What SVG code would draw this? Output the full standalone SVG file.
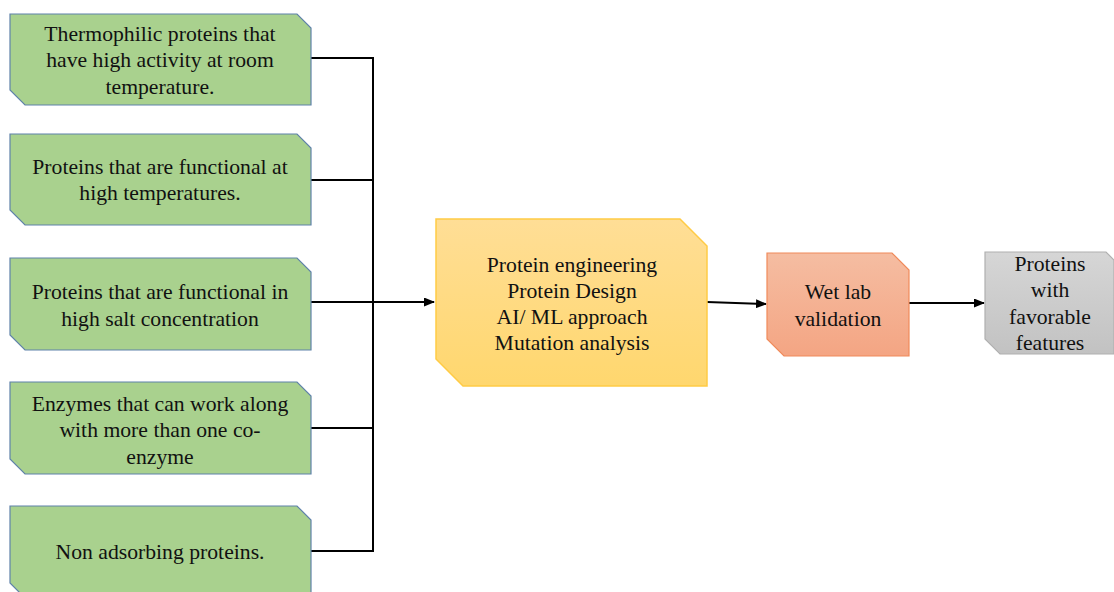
<svg xmlns="http://www.w3.org/2000/svg" width="1114" height="592" viewBox="0 0 1114 592">
<defs>
<linearGradient id="gy" x1="0" y1="0" x2="0" y2="1"><stop offset="0" stop-color="#FFDE96"/><stop offset="1" stop-color="#FFD76E"/></linearGradient>
<linearGradient id="go" x1="0" y1="0" x2="0" y2="1"><stop offset="0" stop-color="#F5BDA2"/><stop offset="1" stop-color="#F4A583"/></linearGradient>
<linearGradient id="gg" x1="0" y1="0" x2="0" y2="1"><stop offset="0" stop-color="#D6D6D6"/><stop offset="1" stop-color="#C2C2C2"/></linearGradient>
<marker id="ah" markerWidth="11" markerHeight="9" refX="10" refY="4.5" orient="auto" markerUnits="userSpaceOnUse"><path d="M0,0 L11,4.5 L0,9 Z" fill="#000"/></marker>
</defs>
<style>
.g{fill:#A9D18E;stroke:#5F82AA;stroke-width:1.2}
.t{font-family:"Liberation Serif","Times New Roman",serif;font-size:21.7px;fill:#111;text-anchor:middle}
.c{fill:none;stroke:#000;stroke-width:2}
</style>
<rect width="1114" height="592" fill="#fff"/>
<g id="connectors">
<path class="c" d="M311,58 H373 V551 H311"/>
<path class="c" d="M311,180 H373"/>
<path class="c" d="M311,428 H373"/>
<path class="c" d="M311,302 H434" marker-end="url(#ah)"/>
<path class="c" d="M707,302 L766,304" marker-end="url(#ah)"/>
<path class="c" d="M909,303 H984" marker-end="url(#ah)"/>
</g>
<g id="n1"><path class="g" d="M10,14 H297 L311,28 V105 H25 L10,90 Z"/>
<text class="t" x="160" y="41">Thermophilic  proteins that</text><text class="t" x="160" y="67">have high activity at room</text><text class="t" x="160" y="94">temperature.</text></g>
<g id="n2"><path class="g" d="M10,134 H297 L311,148 V225 H25 L10,210 Z"/>
<text class="t" x="160" y="174">Proteins that are functional at</text><text class="t" x="160" y="200">high  temperatures.</text></g>
<g id="n3"><path class="g" d="M10,258 H297 L311,272 V350 H25 L10,335 Z"/>
<text class="t" x="160" y="299">Proteins that are functional in</text><text class="t" x="160" y="326">high  salt concentration</text></g>
<g id="n4"><path class="g" d="M10,382 H297 L311,396 V474 H25 L10,459 Z"/>
<text class="t" x="160" y="411">Enzymes that can work along</text><text class="t" x="160" y="437">with more than one co-</text><text class="t" x="160" y="464">enzyme</text></g>
<g id="n5"><path class="g" d="M10,506 H297 L311,520 V598 H25 L10,583 Z"/>
<text class="t" x="160" y="559">Non adsorbing proteins.</text></g>
<g id="n6"><path d="M436,219 H680 L707,246 V386 H463 L436,359 Z" fill="url(#gy)" stroke="#FFCB45" stroke-width="1.5"/>
<text class="t" x="572" y="272">Protein engineering</text><text class="t" x="572" y="298">Protein Design</text><text class="t" x="572" y="324">AI/ ML approach</text><text class="t" x="572" y="350">Mutation analysis</text></g>
<g id="n7"><path d="M767,253 H892 L909,270 V356 H784 L767,339 Z" fill="url(#go)" stroke="#F08A5A" stroke-width="1.2"/>
<text class="t" x="838" y="299">Wet lab</text><text class="t" x="838" y="326">validation</text></g>
<g id="n8"><path d="M985,252 H1106 L1114,260 V354 H1000 L985,339 Z" fill="url(#gg)" stroke="#B0B0B0" stroke-width="1.2"/>
<text class="t" x="1050" y="271">Proteins</text><text class="t" x="1050" y="297">with</text><text class="t" x="1050" y="324">favorable</text><text class="t" x="1050" y="350">features</text></g>
</svg>
